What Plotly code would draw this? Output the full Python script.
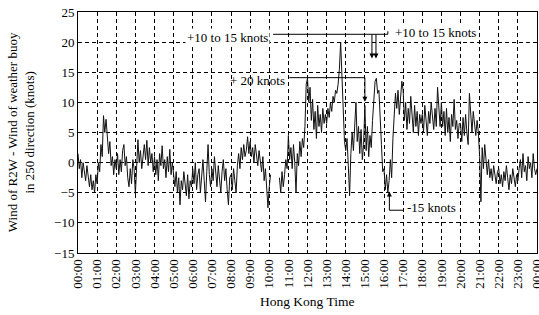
import plotly.graph_objects as go

# ---- data (4-minute samples, knots) ----
STEP_MIN = 4
h00 = [1.5, -1.0, 0.5, -2.5, 0.0, -1.5, -3.0, -0.5, -2.5, -4.0, -2.0, -4.5, -3.0, -5.0, -2.0]
h01 = [-3.5, 0.0, -1.5, 3.0, 1.0, 7.8, 5.0, 7.2, 4.0, 1.5, 3.5, -0.5, 1.0, -2.0, 0.5]
h02 = [-1.0, 1.5, -2.0, 0.5, -1.5, 2.0, 3.0, -0.5, 1.0, -2.5, -4.0, -1.0, -3.5, 0.5, -1.0]
h03 = [-5.2, 1.0, 3.8, 0.0, 2.0, -1.0, 1.5, 3.0, 0.5, 3.7, -0.5, 2.5, 0.0, 1.5, -1.5]
h04 = [1.0, -2.0, 0.5, -3.0, 1.5, -0.5, 2.8, -1.0, 0.5, -2.5, 1.0, -1.5, 2.2, -2.0, 0.0]
h05 = [-2.0, -4.0, -1.5, -5.0, -2.5, -7.0, -3.0, -4.5, -1.5, -3.5, -5.5, -2.0, -6.0, -3.0, -4.0]
h06 = [-1.0, -3.5, 0.0, -4.5, -2.0, -1.0, -5.0, -2.5, 0.5, -3.0, -6.5, -1.5, 3.0, -2.0, -4.0]
h07 = [-1.0, -3.0, 1.0, -2.0, -4.0, -0.5, -2.5, -5.0, -1.5, 0.5, -3.0, -1.0, -4.5, -7.0, -2.5]
h08 = [-2.0, -4.5, -1.0, -3.0, -5.0, -0.5, 1.5, -1.0, 2.5, 0.5, 3.0, 1.0, 2.0, 4.3, 1.5]
h09 = [3.5, 1.0, 2.5, 0.0, 3.0, 1.5, -0.5, 2.0, 0.5, -1.5, 1.0, -3.0, -1.0, -5.0, -7.5]
h10 = [-4.0, -2.0, None, None, None, None, None, None, -2.5, -5.0, -1.5, -4.0, -2.0, 0.5, -1.0]
h11 = [4.5, 0.5, 2.5, -1.0, 3.0, 0.0, -5.0, 1.5, -0.5, 3.5, 1.0, 4.0, 2.5, 6.0, 13.0]
h12 = [14.0, 10.0, 12.5, 7.0, 10.5, 5.5, 8.5, 4.0, 9.5, 6.0, 8.0, 5.0, 9.0, 6.5, 8.0]
h13 = [6.5, 9.0, 7.5, 10.0, 8.5, 11.0, 10.0, 12.0, 11.5, 13.0, 15.5, 20.0, 14.0, 7.0, 3.5]
h14 = [2.0, 4.0, -0.5, -5.5, 1.5, 5.0, 2.0, 7.0, 10.0, 3.5, 6.0, 1.5, 5.5, 0.5, 3.0]
h15 = [9.5, 2.0, 6.0, 1.0, 4.5, 2.5, 7.0, 11.0, 13.5, 14.0, 11.5, 12.0, 6.0, 3.0, -1.5]
h16 = [-1.0, -4.5, -2.0, -5.0, -3.0, 0.5, -2.5, 4.0, 7.0, 11.5, 9.0, 12.0, 8.0, 10.5, 13.5]
h17 = [12.0, 7.0, 10.0, 5.5, 9.0, 6.5, 11.0, 7.5, 5.0, 9.5, 6.0, 8.5, 4.5, 8.0, 6.5]
h18 = [8.0, 5.0, 9.5, 6.0, 4.5, 8.5, 6.5, 10.0, 7.0, 5.5, 9.0, 6.0, 12.5, 8.0, 6.0]
h19 = [10.0, 6.0, 8.5, 4.5, 9.0, 5.0, 7.5, 3.5, 8.0, 6.0, 10.5, 5.5, 7.0, 4.0, 6.5]
h20 = [6.5, 3.5, 7.5, 4.5, 8.0, 5.0, 3.0, 11.5, 7.0, 5.0, 8.5, 6.0, 4.5, 7.0, 5.0]
h21 = [1.0, -6.5, 2.5, -1.0, 3.0, 0.0, -2.0, 0.5, -2.5, -1.0, -3.0, -0.5, -2.0, -3.5, -1.5]
h22 = [-1.0, -3.5, -2.0, -4.0, -1.5, -3.0, -0.5, -2.5, -4.5, -2.0, -3.5, -1.0, -3.0, -4.0, -2.0]
h23 = [-3.0, -1.0, 0.5, -2.5, 1.5, -1.5, -0.5, -3.0, 1.0, -1.0, 0.0, -2.5, 1.5, -1.0, -2.0]
h24 = [-1.0]

wind_diff = (h00 + h01 + h02 + h03 + h04 + h05 + h06 + h07 + h08 + h09 + h10 + h11 +
             h12 + h13 + h14 + h15 + h16 + h17 + h18 + h19 + h20 + h21 + h22 + h23 + h24)
hours = [i * STEP_MIN / 60 for i in range(len(wind_diff))]

tick_hours = list(range(25))
tick_labels = ["00:00", "01:00", "02:00", "03:00", "04:00", "05:00", "06:00", "07:00",
               "08:00", "09:00", "10:00", "11:00", "12:00", "13:00", "14:00", "15:00",
               "16:00", "17:00", "18:00", "19:00", "20:00", "21:00", "22:00", "23:00", "00:00"]

FONT = "Liberation Serif"

fig = go.Figure()
fig.add_trace(go.Scatter(x=hours, y=wind_diff, mode="lines",
                         line=dict(color="#111111", width=1), connectgaps=False,
                         showlegend=False, hoverinfo="skip"))

axis_common = dict(showline=True, linecolor="black", linewidth=1, mirror=True,
                   showgrid=True, gridcolor="black", gridwidth=1, griddash="4px,3px",
                   zeroline=False, ticks="", automargin=False, ticklabeloverflow="allow",
                   tickfont=dict(family=FONT, size=13, color="black"))

fig.update_xaxes(range=[0, 24], tickmode="array", tickvals=tick_hours, ticktext=tick_labels,
                 tickangle=-90, **axis_common)
fig.update_yaxes(range=[-15, 25], dtick=5, tick0=0, **axis_common)

# annotation connector lines
line_style = dict(color="black", width=1)
shapes = [
    # left "+10 to 15 knots"
    dict(type="line", x0=10.2, y0=21.3, x1=15.37, y1=21.3),
    dict(type="line", x0=15.37, y0=21.3, x1=15.37, y1=18.2),
    # right "+10 to 15 knots"
    dict(type="line", x0=15.37, y0=21.3, x1=16.2, y1=21.3),
    dict(type="line", x0=16.2, y0=21.3, x1=16.2, y1=21.8),
    dict(type="line", x0=15.58, y0=21.3, x1=15.58, y1=18.2),
    # "+ 20 knots"
    dict(type="line", x0=11.05, y0=14.1, x1=15.0, y1=14.1),
    dict(type="line", x0=15.0, y0=14.1, x1=15.0, y1=11.0),
    # "-15 knots"
    dict(type="line", x0=16.28, y0=-7.9, x1=17.0, y1=-7.9),
    dict(type="line", x0=16.28, y0=-7.9, x1=16.28, y1=-5.5),
]
for s in shapes:
    s.update(xref="x", yref="y", line=line_style, layer="above")
fig.update_layout(shapes=shapes)

txt_font = dict(family=FONT, size=13, color="black")
annos = [
    dict(x=10.04, y=20.7, text="+10 to 15 knots", xanchor="right", yanchor="middle",
         showarrow=False, bgcolor="white", font=txt_font),
    dict(x=16.45, y=21.6, text="+10 to 15 knots", xanchor="left", yanchor="middle",
         showarrow=False, bgcolor="white", font=txt_font),
    dict(x=10.93, y=13.7, text="+ 20 knots", xanchor="right", yanchor="middle",
         showarrow=False, font=txt_font),
    dict(x=17.1, y=-7.4, text="-15 knots", xanchor="left", yanchor="middle",
         showarrow=False, bgcolor="white", font=txt_font),
]
# arrowheads
for (xh, y_tip, y_tail) in [(15.37, 17.3, 18.5), (15.58, 17.3, 18.5), (15.0, 10.1, 11.3), (16.28, -4.8, -6.0)]:
    annos.append(dict(x=xh, y=y_tip, ax=xh, ay=y_tail, axref="x", ayref="y", xref="x", yref="y",
                      text="", showarrow=True, arrowhead=2, arrowsize=1, arrowwidth=1,
                      arrowcolor="black"))
# axis titles
annos.append(dict(xref="paper", yref="paper", x=-0.125, y=0.5, xanchor="center", yanchor="middle",
                  text="Wind of R2W - Wind of weather buoy<br>in 250 direction (knots)",
                  textangle=-90, showarrow=False, font=txt_font))
annos.append(dict(xref="paper", yref="paper", x=0.5, y=-0.203, xanchor="center", yanchor="middle",
                  text="Hong Kong Time", showarrow=False, font=dict(family=FONT, size=13.5, color="black")))
fig.update_layout(annotations=annos)

fig.update_layout(width=539, height=315, margin=dict(l=78, r=2, t=12, b=62),
                  paper_bgcolor="white", plot_bgcolor="white",
                  font=dict(family=FONT, size=13, color="black"))

# remove the page's default 8px body margin so the figure fills the window exactly
fig.write_html("out.html", config={"displayModeBar": False},
               post_script="document.body.style.margin='0';document.body.style.overflow='hidden';")
